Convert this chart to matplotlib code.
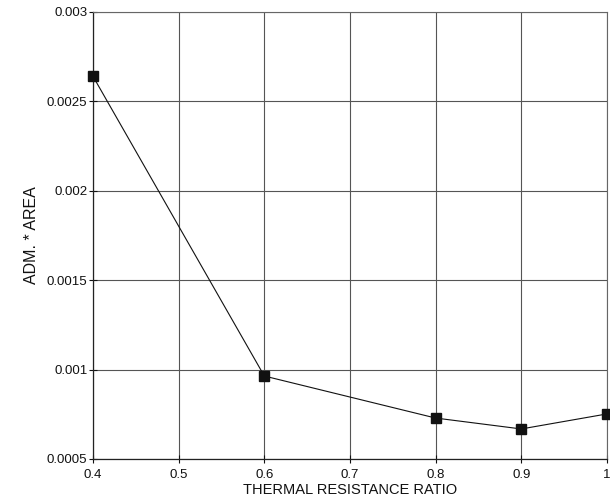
import matplotlib
matplotlib.use("Agg")
import matplotlib.pyplot as plt

# thermal resistance ratio vs admittance * area
ratio = [0.4, 0.6, 0.8, 0.9, 1.0]
adm_area = [0.00264, 0.000964, 0.000729, 0.000668, 0.000752]

x_ticks = [0.4, 0.5, 0.6, 0.7, 0.8, 0.9, 1.0]
x_labels = ["0.4", "0.5", "0.6", "0.7", "0.8", "0.9", "1"]
y_ticks = [0.0005, 0.001, 0.0015, 0.002, 0.0025, 0.003]
y_labels = ["0.0005", "0.001", "0.0015", "0.002", "0.0025", "0.003"]

plt.rcParams["font.family"] = ["Liberation Sans", "DejaVu Sans"]

fig = plt.figure(figsize=(6.1, 5.04), dpi=100)
ax = fig.add_axes([0.1525, 0.0893, 0.8425, 0.8869])

ax.plot(ratio, adm_area, color="#111111", linewidth=0.8,
        marker="s", markersize=6.5, markerfacecolor="#111111",
        markeredgecolor="#111111", zorder=3, clip_on=False)

ax.set_xlim(0.4, 1.0)
ax.set_ylim(0.0005, 0.003)
ax.set_xticks(x_ticks)
ax.set_xticklabels(x_labels)
ax.set_yticks(y_ticks)
ax.set_yticklabels(y_labels)

ax.grid(True, color="#555555", linewidth=0.8)
ax.set_axisbelow(True)

for side in ["left", "bottom"]:
    ax.spines[side].set_color("#222222")
    ax.spines[side].set_linewidth(0.9)
for side in ["top", "right"]:
    ax.spines[side].set_color("#666666")
    ax.spines[side].set_linewidth(0.8)

ax.tick_params(axis="both", direction="inout", length=6, width=0.8,
               colors="#111111", labelsize=9.5)
ax.tick_params(axis="x", pad=4)
ax.tick_params(axis="y", pad=1)

ax.set_xlabel("THERMAL RESISTANCE RATIO", fontsize=10.5, labelpad=2,
              color="#111111")
ax.set_ylabel("ADM. * AREA", fontsize=11.5, labelpad=6, color="#111111")

fig.savefig("out.png", dpi=100)
